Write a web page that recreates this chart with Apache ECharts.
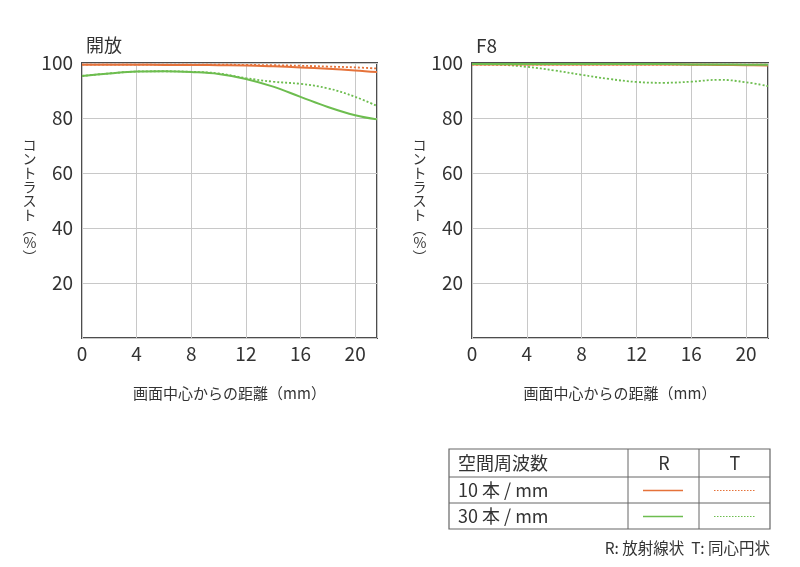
<!DOCTYPE html>
<html>
<head>
<meta charset="utf-8">
<script src="https://cdn.jsdelivr.net/npm/echarts@6/dist/echarts.min.js"></script>
<style>
html,body{margin:0;padding:0;background:#fff;}
#c{width:800px;height:567px;}
</style>
</head>
<body>
<div id="c"></div>
<script>
// ---- data ----
var xs = [0, 2, 4, 6, 8, 10, 12, 14, 16, 18, 20, 21.6];
var xTicks = [0, 4, 8, 12, 16, 20];
var yTicks = [0, 20, 40, 60, 80, 100];

var open_R10 = [99.4, 99.4, 99.4, 99.3, 99.3, 99.2, 99.1, 98.8, 98.4, 97.9, 97.3, 96.7];
var open_T10 = [99.4, 99.4, 99.4, 99.4, 99.4, 99.4, 99.3, 99.2, 99.0, 98.7, 98.4, 98.0];
var open_R30 = [95.3, 96.2, 96.9, 97.0, 96.7, 96.0, 94.2, 91.4, 87.7, 84.0, 81.0, 79.5];
var open_T30 = [95.3, 96.2, 96.9, 97.0, 96.8, 96.2, 94.5, 93.2, 92.4, 90.8, 87.7, 84.4];

var f8_R10 = [99.5, 99.5, 99.5, 99.5, 99.5, 99.5, 99.5, 99.5, 99.4, 99.3, 99.2, 99.1];
var f8_T10 = [99.4, 99.4, 99.4, 99.4, 99.4, 99.4, 99.4, 99.4, 99.4, 99.4, 99.4, 99.4];
var f8_R30 = [99.6, 99.6, 99.6, 99.6, 99.6, 99.6, 99.6, 99.6, 99.5, 99.5, 99.4, 99.4];
var f8_T30 = [99.6, 99.4, 98.6, 97.3, 95.7, 94.2, 93.1, 92.8, 93.2, 93.9, 93.0, 91.6];

var titles = ['開放', 'F8'];
var xName = '画面中心からの距離（mm）';
var yName = 'コ\nン\nト\nラ\nス\nト\n︵\n%\n︶';
var tableHeader = ['空間周波数', 'R', 'T'];
var rowLabels = ['10 本 / mm', '30 本 / mm'];
var footnote = 'R: 放射線状  T: 同心円状';

// ---- styles ----
var ORANGE = '#e5723a';
var GREEN = '#6dbd4f';
var FONT = '"Noto Sans CJK JP", "Noto Sans", sans-serif';
var TXT = '#333';

function pairs(v) { return xs.map(function (x, i) { return [x, v[i]]; }); }

var grids = [
  { left: 82, top: 63, width: 295, height: 275 },
  { left: 472, top: 63, width: 296, height: 275 }
];

function mkX(gi) {
  return {
    type: 'value', gridIndex: gi, min: 0, max: 21.6, interval: 4,
    name: xName, nameLocation: 'middle', nameGap: 48,
    nameTextStyle: { fontFamily: FONT, fontSize: 15, color: TXT },
    axisLine: { show: false }, axisTick: { show: false },
    axisLabel: { fontFamily: FONT, fontSize: 19, color: TXT, margin: 6, showMaxLabel: false },
    splitLine: { show: true, lineStyle: { color: '#c8c8c8', width: 1 } }
  };
}
function mkY(gi) {
  return {
    type: 'value', gridIndex: gi, min: 0, max: 100, interval: 20,
    name: yName, nameLocation: 'middle', nameGap: 44, nameRotate: 0,
    nameTextStyle: { fontFamily: FONT, fontSize: 14, color: TXT, lineHeight: 14 },
    axisLine: { show: false }, axisTick: { show: false },
    axisLabel: {
      fontFamily: FONT, fontSize: 19, color: TXT, margin: 9,
      formatter: function (v) { return v === 0 ? '' : String(v); }
    },
    splitLine: { show: true, lineStyle: { color: '#c8c8c8', width: 1 } }
  };
}
function mkS(gi, data, color, dotted) {
  return {
    type: 'line', xAxisIndex: gi, yAxisIndex: gi, data: pairs(data),
    smooth: 0.4, symbol: 'none', silent: true, z: dotted ? 3 : 4,
    lineStyle: { color: color, width: dotted ? 1.8 : 2, type: dotted ? [2, 2] : 'solid' }
  };
}

// legend table graphics
var TL = 449, TR = 770, TT = 449, R1 = 477, R2 = 503, TB = 529, C1 = 628, C2 = 699;
var lineStyleT = { stroke: '#666', lineWidth: 1 };
var g = [];
g.push({ type: 'rect', shape: { x: TL, y: TT, width: TR - TL, height: TB - TT }, style: { fill: 'none', stroke: '#666', lineWidth: 1.2 } });
g.push({ type: 'line', shape: { x1: TL, y1: R1, x2: TR, y2: R1 }, style: lineStyleT });
g.push({ type: 'line', shape: { x1: TL, y1: R2, x2: TR, y2: R2 }, style: lineStyleT });
g.push({ type: 'line', shape: { x1: C1, y1: TT, x2: C1, y2: TB }, style: lineStyleT });
g.push({ type: 'line', shape: { x1: C2, y1: TT, x2: C2, y2: TB }, style: lineStyleT });
var tStyle = function (txt, x, y, align) {
  return { type: 'text', x: x, y: y, style: { text: txt, fontFamily: FONT, fontSize: 18, fill: TXT, align: align || 'left', verticalAlign: 'middle' } };
};
g.push(tStyle(tableHeader[0], 458, 463));
g.push(tStyle(tableHeader[1], 664, 463, 'center'));
g.push(tStyle(tableHeader[2], 735, 463, 'center'));
g.push(tStyle(rowLabels[0], 458, 490));
g.push(tStyle(rowLabels[1], 458, 516));
g.push({ type: 'line', shape: { x1: 643, y1: 490.5, x2: 683, y2: 490.5 }, style: { stroke: ORANGE, lineWidth: 1.5 } });
g.push({ type: 'line', shape: { x1: 714, y1: 490.5, x2: 756, y2: 490.5 }, style: { stroke: ORANGE, lineWidth: 1.2, lineDash: [1.5, 1.5] } });
g.push({ type: 'line', shape: { x1: 643, y1: 516.5, x2: 683, y2: 516.5 }, style: { stroke: GREEN, lineWidth: 1.5 } });
g.push({ type: 'line', shape: { x1: 714, y1: 516.5, x2: 756, y2: 516.5 }, style: { stroke: GREEN, lineWidth: 1.2, lineDash: [1.5, 1.5] } });
g.push({ type: 'text', x: 770, y: 548, style: { text: footnote, fontFamily: FONT, fontSize: 15.5, fill: TXT, align: 'right', verticalAlign: 'middle' } });

var chart = echarts.init(document.getElementById('c'));
chart.setOption({
  animation: false,
  backgroundColor: '#fff',
  title: [
    { text: titles[0], left: 81, top: 31, textStyle: { fontFamily: FONT, fontSize: 18, fontWeight: 'normal', color: TXT } },
    { text: titles[1], left: 471, top: 31, textStyle: { fontFamily: FONT, fontSize: 19, fontWeight: 'normal', color: TXT } }
  ],
  grid: grids.map(function (gr) {
    return Object.assign({ show: true, borderColor: '#4d4d4d', borderWidth: 2, backgroundColor: 'transparent', containLabel: false }, gr);
  }),
  xAxis: [mkX(0), mkX(1)],
  yAxis: [mkY(0), mkY(1)],
  series: [
    mkS(0, open_T10, ORANGE, true),
    mkS(0, open_R10, ORANGE, false),
    mkS(0, open_T30, GREEN, true),
    mkS(0, open_R30, GREEN, false),
    mkS(1, f8_T10, ORANGE, true),
    mkS(1, f8_R10, ORANGE, false),
    mkS(1, f8_R30, GREEN, false),
    mkS(1, f8_T30, GREEN, true)
  ],
  graphic: g
});
</script>
</body>
</html>
